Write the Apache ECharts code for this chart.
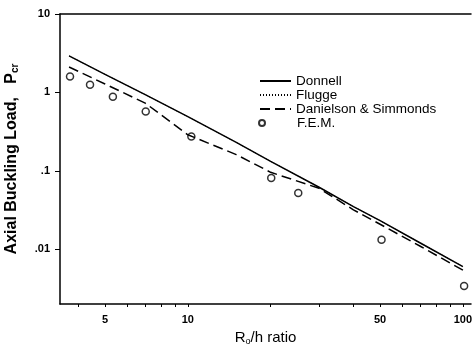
<!DOCTYPE html>
<html>
<head>
<meta charset="utf-8">
<script src="https://cdn.jsdelivr.net/npm/echarts@6/dist/echarts.min.js"></script>
<style>
  html, body { margin: 0; padding: 0; background: #fff; }
  #chart { width: 474px; height: 352px; }
</style>
</head>
<body>
<div id="chart"></div>
<script>
// R/h ratio where the analytic curves are read
const ratio = [3.7, 5, 7, 10, 15, 20, 30, 40, 50, 70, 100];
const donnell = [2.92, 1.70, 0.935, 0.49, 0.23, 0.132, 0.0617, 0.035, 0.0231, 0.0120, 0.0060];
const flugge = [2.92, 1.70, 0.935, 0.49, 0.23, 0.132, 0.0617, 0.035, 0.0231, 0.0120, 0.0060];
const danielson = [2.11, 1.28, 0.73, 0.288, 0.161, 0.0957, 0.0598, 0.0318, 0.0208, 0.0109, 0.0054];

// finite element results
const femRatio = [3.73, 4.41, 5.34, 7.03, 10.3, 20.1, 25.2, 50.6, 101];
const femLoad = [1.59, 1.25, 0.88, 0.57, 0.274, 0.081, 0.052, 0.0132, 0.0034];

const xLabels = [5, 10, 50, 100];
const xTicks = [4, 5, 6, 7, 8, 9, 10, 20, 30, 40, 50, 60, 70, 80, 90, 100];
const yLabels = [0.01, 0.1, 1, 10];

const font = "'Liberation Sans', Arial, sans-serif";
const chart = echarts.init(document.getElementById('chart'));

const pairs = (xs, ys) => xs.map((x, i) => [x, ys[i]]);
// line entries in the legend: line only, no dot
const lineEntry = (name) => ({ name: name, itemStyle: { opacity: 0 } });
const legendText = { fontFamily: font, fontSize: 13.5, lineHeight: 14, color: '#000' };

chart.setOption({
  animation: false,
  backgroundColor: '#fff',
  textStyle: { fontFamily: font, color: '#000' },
  grid: { left: 60, right: 3, top: 14, bottom: 48, outerBoundsMode: 'none' },
  legend: [
    {
      orient: 'vertical',
      left: 254,
      top: 69,
      itemWidth: 31,
      itemHeight: 8,
      itemGap: 0,
      textStyle: legendText,
      data: [
        lineEntry('Donnell'),
        lineEntry('Flugge'),
        lineEntry('Danielson & Simmonds'),
      ],
    },
    {
      orient: 'vertical',
      left: 253,
      top: 111,
      itemWidth: 60,
      itemHeight: 6,
      textStyle: legendText,
      data: ['F.E.M.'],
    },
  ],
  xAxis: [
    {
      type: 'log',
      min: 3.43,
      max: 107,
      name: '{a|R}{s|o}{a|/h ratio}',
      nameLocation: 'middle',
      nameGap: 26,
      nameTextStyle: {
        rich: {
          a: { fontFamily: font, fontSize: 15, color: '#000' },
          s: { fontFamily: font, fontSize: 9, color: '#000', verticalAlign: 'bottom', padding: [7, 0, 0, 0] },
        },
      },
      axisLine: { lineStyle: { color: '#000', width: 1.5 } },
      axisTick: { customValues: xTicks, length: 3, lineStyle: { color: '#000' } },
      axisLabel: {
        customValues: xLabels,
        margin: 10,
        fontWeight: 'bold',
        fontSize: 11,
        color: '#000',
      },
      splitLine: { show: false },
      minorTick: { show: false },
    },
    {
      type: 'log',
      position: 'top',
      min: 3.43,
      max: 107,
      axisLine: { lineStyle: { color: '#000', width: 1.5 } },
      axisTick: { show: false },
      axisLabel: { show: false },
      splitLine: { show: false },
    },
  ],
  yAxis: {
    type: 'log',
    min: 0.002,
    max: 10,
    name: '{a|Axial Buckling Load,   P}{s|cr}',
    nameLocation: 'middle',
    nameGap: 40,
    nameTextStyle: {
      rich: {
        a: { fontFamily: font, fontSize: 16, fontWeight: 'bold', color: '#000' },
        s: { fontFamily: font, fontSize: 10, fontWeight: 'bold', color: '#000', verticalAlign: 'bottom', padding: [6, 0, 0, 0] },
      },
    },
    axisLine: { lineStyle: { color: '#000', width: 1.5 } },
    axisTick: { customValues: yLabels, length: 5, lineStyle: { color: '#000' } },
    axisLabel: {
      customValues: yLabels,
      margin: 10,
      fontWeight: 'bold',
      fontSize: 11,
      color: '#000',
      formatter: (v) => String(v).replace(/^0\./, '.'),
    },
    splitLine: { show: false },
  },
  series: [
    {
      name: 'Donnell',
      type: 'line',
      data: pairs(ratio, donnell),
      symbol: 'none',
      lineStyle: { color: '#000', width: 1.5 },
      itemStyle: { color: '#000' },
      z: 3,
    },
    {
      name: 'Flugge',
      type: 'line',
      data: pairs(ratio, flugge),
      symbol: 'none',
      lineStyle: { color: '#000', width: 1, type: [1, 2] },
      itemStyle: { color: '#000' },
      z: 2,
    },
    {
      name: 'Danielson & Simmonds',
      type: 'line',
      data: pairs(ratio, danielson),
      symbol: 'none',
      lineStyle: { color: '#000', width: 1.5, type: [10, 5] },
      itemStyle: { color: '#000' },
    },
    {
      name: 'F.E.M.',
      type: 'scatter',
      data: pairs(femRatio, femLoad),
      symbol: 'circle',
      symbolSize: 7,
      itemStyle: { color: '#fff', borderColor: '#000', borderWidth: 1.5 },
    },
  ],
});
</script>
</body>
</html>
